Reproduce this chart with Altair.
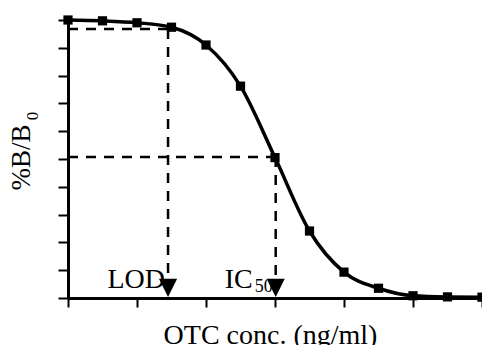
import altair as alt
import pandas as pd

# log-concentration positions (one unit per x tick) and %B/B0 readings
conc_pos = [0, 0.5, 1, 1.5, 2, 2.5, 3, 3.5, 4, 4.5, 5, 5.5, 6]
pct_b_b0 = [100, 99.7, 99.0, 97.4, 91.0, 76.2, 50.5, 24.1, 9.3, 3.5, 0.8, 0.4, 0.3]
x_ticks = [0, 1, 2, 3, 4, 5, 6]
y_ticks = list(range(0, 101, 10))

lod_x, lod_y = 1.45, 96.8
ic50_x, ic50_y = 3.01, 50.7
labels = ["LOD", "IC"]
label_x = [lod_x, ic50_x]

FONT = "Liberation Serif"

curve = pd.DataFrame({"x": conc_pos, "y": pct_b_b0})
guides = pd.DataFrame({
    "x": [0, lod_x, 0, ic50_x],
    "x2": [lod_x, lod_x, ic50_x, ic50_x],
    "y": [lod_y, lod_y, ic50_y, ic50_y],
    "y2": [lod_y, 0, ic50_y, 0],
})
arrows = pd.DataFrame({"x": label_x, "y": [0, 0]})
lab = pd.DataFrame({"x": label_x, "y": [0, 0], "t": labels})
sub = pd.DataFrame({"x": [ic50_x], "y": [0], "t": ["50"]})

xscale = alt.Scale(domain=[0, 6], nice=False, zero=False)
yscale = alt.Scale(domain=[0, 100], nice=False)
xaxis = alt.Axis(values=x_ticks, labels=False, grid=False, title="OTC conc. (ng/ml)",
                 titleFont=FONT, titleFontSize=28, titleFontWeight="normal", titleColor="black",
                 titleX=202, titleY=45, titleAlign="center", titleBaseline="alphabetic",
                 domainColor="black", domainWidth=3, tickColor="black", tickWidth=2, tickSize=9)
yaxis = alt.Axis(values=y_ticks, labels=False, grid=False, title="%B/B",
                 titleFont=FONT, titleFontSize=27, titleFontWeight="normal", titleColor="black",
                 titleAngle=270, titleX=-39, titleY=137, titleAlign="center", titleBaseline="alphabetic",
                 domainColor="black", domainWidth=3, tickColor="black", tickWidth=2, tickSize=10)

X = lambda f: alt.X(f"{f}:Q", scale=xscale, axis=xaxis)
Y = lambda f: alt.Y(f"{f}:Q", scale=yscale, axis=yaxis)

guide_layer = alt.Chart(guides).mark_rule(color="black", strokeWidth=2.5, strokeDash=[10, 8]).encode(
    x=X("x"), x2="x2", y=Y("y"), y2="y2")

line = alt.Chart(curve).mark_line(color="black", strokeWidth=3.5, interpolate="monotone").encode(
    x=X("x"), y=Y("y"))
pts = alt.Chart(curve).mark_point(shape="square", filled=True, size=85, color="black", opacity=1).encode(
    x=X("x"), y=Y("y"))

arrow_layer = alt.Chart(arrows).mark_point(shape="M-1,-2L1,-2L0,0Z", filled=True, size=330,
                                           color="black", opacity=1, yOffset=-1).encode(
    x=X("x"), y=Y("y"))

text_lod = alt.Chart(lab.iloc[[0]]).mark_text(font=FONT, fontSize=28, align="right", baseline="alphabetic",
                                              dx=-3, dy=-10, color="black").encode(
    x=X("x"), y=Y("y"), text="t:N")
text_ic = alt.Chart(lab.iloc[[1]]).mark_text(font=FONT, fontSize=28, align="right", baseline="alphabetic",
                                             dx=-23, dy=-10, color="black").encode(
    x=X("x"), y=Y("y"), text="t:N")
sub_layer = alt.Chart(sub).mark_text(font=FONT, fontSize=18, align="left", baseline="alphabetic",
                                     dx=-21, dy=-6, color="black").encode(
    x=X("x"), y=Y("y"), text="t:N")
ysub = alt.Chart(pd.DataFrame({"t": ["0"]})).mark_text(font=FONT, fontSize=17, angle=270, align="center",
                                                       baseline="alphabetic", color="black").encode(
    x=alt.value(-30), y=alt.value(96), text="t:N")

chart = alt.layer(guide_layer, line, pts, arrow_layer, text_lod, text_ic, sub_layer, ysub).properties(
    width=414, height=278,
    autosize=alt.AutoSizeParams(type="none"),
    padding={"left": 68, "top": 20, "right": 0, "bottom": 47},
    background="white",
).configure_view(stroke=None)

chart.save("out.html", embed_options={"renderer": "svg", "actions": False})
